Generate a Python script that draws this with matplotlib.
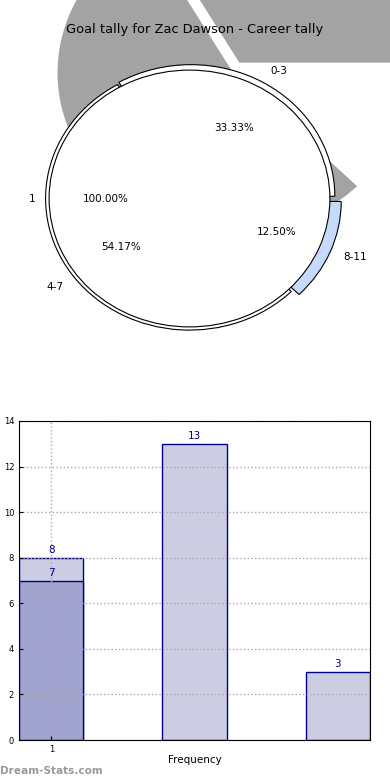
import numpy as np
import matplotlib
matplotlib.use('Agg')
import matplotlib.pyplot as plt

# data
title = 'Goal tally for Zac Dawson - Career tally'
tally_labels = ['0-3', '4-7', '8-11']
tally_counts = [8, 13, 3]
total_labels = ['1']
total_counts = [7]

fig = plt.figure(figsize=(3.9, 7.8), dpi=100)
fig.text(195 / 390, 1 - 30 / 780, title, ha='center', va='center', fontsize=9.4)

# pie panel (egg shaped, like the original)
ax1 = fig.add_axes([14 / 390, 421 / 780, 351 / 390, 321 / 780])

# big grey shadow left behind by the exploded pie
shadow, _ = ax1.pie(tally_counts, radius=1.25, center=(0.31, 0.98),
                    explode=[0.09, 0, 0], startangle=0,
                    colors=['#a3a3a3', '#a3a3a3', 'none'],
                    wedgeprops=dict(linewidth=0, clip_on=False))

# exploded tally pie
ax1.pie(tally_counts, labels=tally_labels, radius=1.025,
        explode=[0.02, 0.0, 0.06], startangle=0,
        colors=['white', 'white', '#c6dafc'], autopct='%1.2f%%',
        wedgeprops=dict(edgecolor='black', linewidth=0.8),
        textprops=dict(fontsize=7.5))

# single wedge pie on top
ax1.pie(total_counts, labels=total_labels, startangle=0,
        colors=['white'], autopct='%1.2f%%',
        wedgeprops=dict(edgecolor='black', linewidth=0.8),
        textprops=dict(fontsize=7.5))

ax1.set_aspect('auto')
ax1.set_xlim(-1.25, 1.25)
ax1.set_ylim(-1.25, 1.25)
ax1.axis('off')

# bar panel
ax2 = fig.add_axes([19 / 390, 40 / 780, 351 / 390, 319 / 780])
positions = np.arange(1, len(tally_counts) + 1)
bar_w = 0.45
bars = ax2.bar(positions, tally_counts, width=bar_w, color='#ccccE3',
               edgecolor='#00008b', linewidth=1)
bars2 = ax2.bar(positions[:len(total_counts)], total_counts, width=bar_w,
                color='#a2a4d0', edgecolor='#00008b', linewidth=1)
for b in list(bars) + list(bars2):
    h = b.get_height()
    ax2.text(b.get_x() + b.get_width() / 2, h + 0.12, '%d' % h,
             ha='center', va='bottom', color='#00008b', fontsize=7.5)

ax2.set_xlim(1 - bar_w / 2, len(tally_counts) + bar_w / 2)
ax2.set_ylim(0, 14)
ax2.set_yticks(np.arange(0, 15, 2))
ax2.set_xticks([1])
ax2.tick_params(direction='in', labelsize=6, length=3)
ax2.set_axisbelow(False)
ax2.grid(True, linestyle=':', color='#aaaaaa', linewidth=1)
for sp in ax2.spines.values():
    sp.set_zorder(4)
ax2.set_xlabel('Frequency', fontsize=7.5, labelpad=1)
ax2.set_ylabel('Goal Interval', fontsize=7.5)
ax2.yaxis.set_label_coords(-0.046, 0.5)

fig.text(0.0, 4 / 780, 'Dream-Stats.com', color='#9a9a9a', fontsize=7.6,
         fontweight='bold', ha='left', va='bottom')

fig.savefig('out.png', dpi=100)
